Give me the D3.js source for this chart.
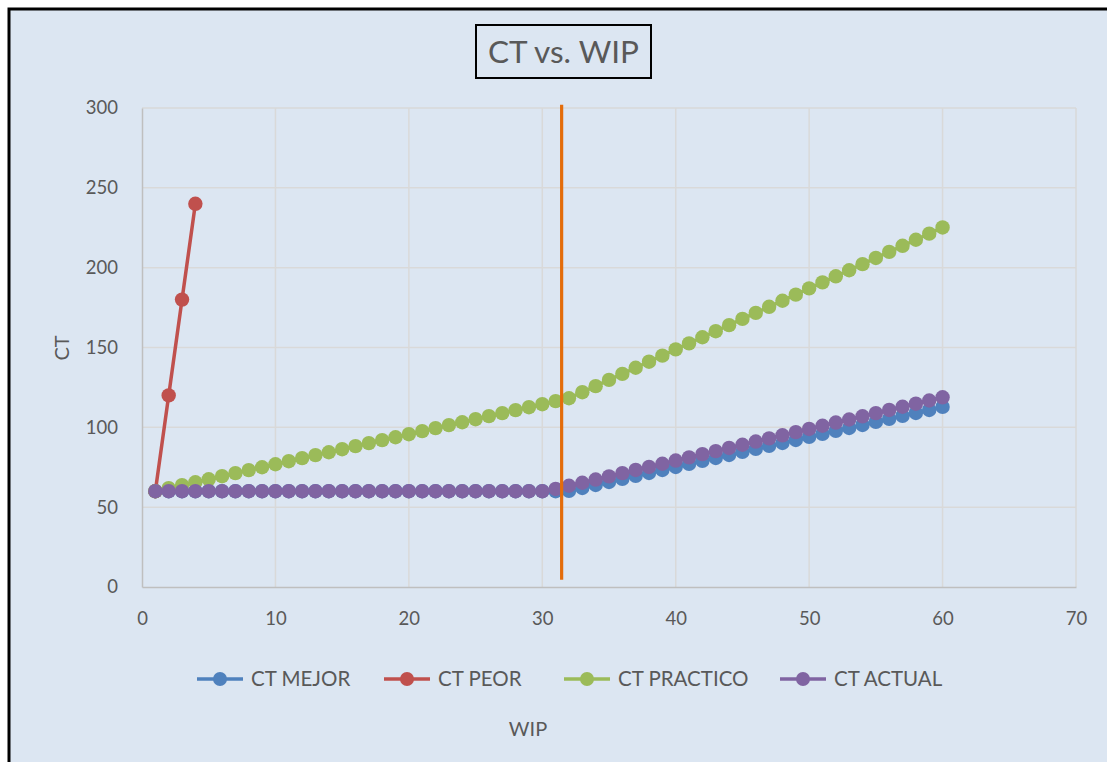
<!DOCTYPE html>
<html>
<head>
<meta charset="utf-8">
<script src="https://cdn.jsdelivr.net/npm/d3@7"></script>
<style>
  html, body { margin: 0; padding: 0; background: #ffffff; }
  svg { display: block; }
  text { font-family: Lato, "Open Sans", sans-serif; fill: #595959; }
</style>
</head>
<body>
<svg id="chart" width="1107" height="762"></svg>
<script>
// WIP levels (x categories)
const wip = [1,2,3,4,5,6,7,8,9,10,11,12,13,14,15,16,17,18,19,20,
             21,22,23,24,25,26,27,28,29,30,31,32,33,34,35,36,37,38,39,40,
             41,42,43,44,45,46,47,48,49,50,51,52,53,54,55,56,57,58,59,60];

// Best case cycle time
const ctMejor = [60,60,60,60,60,60,60,60,60,60,60,60,60,60,60,60,60,60,60,60,
                 60,60,60,60,60,60,60,60,60,60,60,60.2,62.0,63.9,65.8,67.7,69.6,71.4,73.3,75.2,
                 77.1,79.0,80.8,82.7,84.6,86.5,88.4,90.2,92.1,94.0,95.9,97.8,99.6,101.5,103.4,105.3,107.2,109.0,110.9,112.8];

// Worst case cycle time (first four WIP levels only)
const wipPeor = [1,2,3,4];
const ctPeor = [60,120,180,240];

// Practical worst case cycle time
const ctPractico = [60,61.9,63.8,65.6,67.5,69.4,71.3,73.2,75.0,76.9,78.8,80.7,82.6,84.4,86.3,88.2,90.1,92.0,93.8,95.7,
                    97.6,99.5,101.4,103.2,105.1,107.0,108.9,110.8,112.6,114.5,116.4,118.2,122.0,125.8,129.7,133.5,137.3,141.1,144.9,148.8,
                    152.6,156.4,160.2,164.0,167.9,171.7,175.5,179.3,183.1,187.0,190.8,194.6,198.4,202.2,206.1,209.9,213.7,217.5,221.3,225.2];

// Actual cycle time
const ctActual = [60,60,60,60,60,60,60,60,60,60,60,60,60,60,60,60,60,60,60,60,
                  60,60,60,60,60,60,60,60,60,60,61.4,63.4,65.3,67.3,69.3,71.3,73.3,75.2,77.2,79.2,
                  81.2,83.2,85.1,87.1,89.1,91.1,93.1,95.0,97.0,99.0,101.0,103.0,104.9,106.9,108.9,110.9,112.9,114.8,116.8,118.8];

// Critical WIP marker line
const wipCritico = [31.45, 31.45];
const ctCritico = [4.5, 302];

const xTicks = [0,10,20,30,40,50,60,70];
const yTicks = [0,50,100,150,200,250,300];

const seriesNames = ["CT MEJOR","CT PEOR","CT PRACTICO","CT ACTUAL"];
const seriesColors = ["#4f81bd","#c0504d","#9bbb59","#8064a2"];
const criticoColor = "#e46c0a";

const svg = d3.select("#chart");

// chart area
svg.append("rect")
  .attr("x", 9).attr("y", 9).attr("width", 1110).attr("height", 770)
  .attr("fill", "#dce6f2").attr("stroke", "#000").attr("stroke-width", 3);

const x = d3.scaleLinear().domain([0, 70]).range([142, 1076]);
const y = d3.scaleLinear().domain([0, 300]).range([587, 108]);

// gridlines
const grid = svg.append("g");
grid.selectAll("line.h").data(yTicks.filter(d => d > 0)).join("line")
  .attr("x1", x(0)).attr("x2", x(70))
  .attr("y1", d => y(d)).attr("y2", d => y(d))
  .attr("stroke", "#d9d9d9").attr("stroke-width", 1.5);
grid.selectAll("line.v").data(xTicks.filter(d => d > 0)).join("line")
  .attr("class", "v")
  .attr("x1", d => x(d)).attr("x2", d => x(d))
  .attr("y1", y(0)).attr("y2", y(300))
  .attr("stroke", "#d9d9d9").attr("stroke-width", 1.5);

// axes
const xAxis = svg.append("g").attr("transform", `translate(0,${y(0)})`)
  .call(d3.axisBottom(x).tickValues(xTicks).tickSize(0).tickPadding(32));
const yAxis = svg.append("g").attr("transform", `translate(${x(0)},0)`)
  .call(d3.axisLeft(y).tickValues(yTicks).tickSize(0).tickPadding(24));
[xAxis, yAxis].forEach(a => {
  a.select(".domain").attr("stroke", "#bfbfbf").attr("stroke-width", 1.5);
  a.selectAll("text").attr("font-size", 18.5).attr("fill", "#595959")
    .attr("font-family", "Lato, 'Open Sans', sans-serif");
});
xAxis.selectAll("text").attr("dy", "0.35em");

// series
const line = d3.line().x(d => x(d[0])).y(d => y(d[1]));
const series = [
  wip.map((w, i) => [w, ctMejor[i]]),
  wipPeor.map((w, i) => [w, ctPeor[i]]),
  wip.map((w, i) => [w, ctPractico[i]]),
  wip.map((w, i) => [w, ctActual[i]])
];
series.forEach((pts, k) => {
  const g = svg.append("g");
  g.append("path").datum(pts).attr("d", line)
    .attr("fill", "none").attr("stroke", seriesColors[k])
    .attr("stroke-width", 3.5).attr("stroke-linejoin", "round");
  g.selectAll("circle").data(pts).join("circle")
    .attr("cx", d => x(d[0])).attr("cy", d => y(d[1]))
    .attr("r", 7.2).attr("fill", seriesColors[k]);
});

// critical WIP line
svg.append("path")
  .datum(wipCritico.map((w, i) => [w, ctCritico[i]]))
  .attr("d", line).attr("stroke", criticoColor).attr("stroke-width", 3.2).attr("fill", "none");

// title
svg.append("rect").attr("x", 476).attr("y", 25).attr("width", 175).attr("height", 53)
  .attr("fill", "none").attr("stroke", "#000").attr("stroke-width", 2);
svg.append("text").attr("x", 563.5).attr("y", 63).attr("text-anchor", "middle")
  .attr("font-size", 31.5).text("CT vs. WIP");

// axis titles
svg.append("text").attr("transform", "translate(69,348) rotate(-90)")
  .attr("text-anchor", "middle").attr("font-size", 20).text("CT");
svg.append("text").attr("x", 528).attr("y", 736).attr("text-anchor", "middle")
  .attr("font-size", 20).text("WIP");

// legend
const legendX = [197, 384, 564, 780];
const legend = svg.append("g");
seriesNames.forEach((name, k) => {
  const g = legend.append("g").attr("transform", `translate(${legendX[k]},679)`);
  g.append("line").attr("x1", 0).attr("x2", 46).attr("stroke", seriesColors[k]).attr("stroke-width", 3.5);
  g.append("circle").attr("cx", 23).attr("r", 7).attr("fill", seriesColors[k]);
  g.append("text").attr("x", 54).attr("dy", "0.35em").attr("font-size", 20.5).text(name);
});
</script>
</body>
</html>
